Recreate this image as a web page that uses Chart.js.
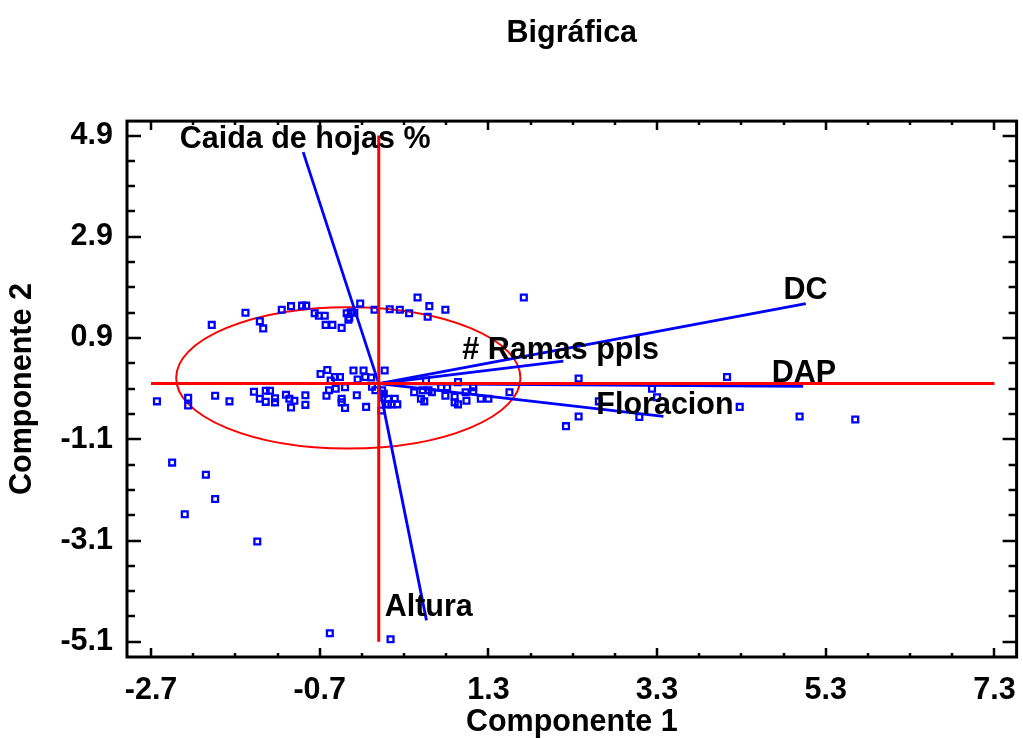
<!DOCTYPE html>
<html>
<head>
<meta charset="utf-8">
<title>Bigráfica</title>
<script src="https://cdn.jsdelivr.net/npm/chart.js@4.4.1/dist/chart.umd.min.js"></script>
<style>
  html, body { margin: 0; padding: 0; background: #fff; }
  #wrap { width: 1023px; height: 738px; }
</style>
</head>
<body>
<div id="wrap"><canvas id="chart" width="1023" height="738"></canvas></div>
<script>
// observation scores (Componente 1, Componente 2)
const scoreX = [
  -1.98, -1.58, -1.41, -1.37, -1.15, -1.04, -0.91, -0.86, -0.76, -0.71, -0.64, -0.63, -0.55, -0.44,
  -0.38, -0.33, -0.29, -0.35, -0.36, -0.22, -0.05, 0.13, 0.25, 0.36, 0.46, 0.60, 0.58, 0.79, 1.72,
  -2.63, -2.26, -2.26, -1.94, -1.77,
  -1.48, -1.41, -1.34, -1.29, -1.34, -1.23, -1.23, -1.10, -1.06, -1.00, -1.04, -0.87, -0.87, -0.62,
  -0.44, -0.44, -0.40, -0.51, -0.40, -0.26, -0.15,
  -0.69, -0.61, -0.57, -0.52, -0.46, -0.59, -0.30, -0.18, -0.25, -0.16, -0.09, 0.07, -0.08, -0.04,
  0.04, 0.06, 0.04, 0.11, 0.19, 0.11, 0.15, 0.22, 0.03,
  0.42, 0.52, 0.59, 0.50, 0.54, 0.56, 0.63, 0.74, 0.81, 0.79, 0.90, 0.90, 0.94, 0.94, 1.03, 1.04,
  1.12, 1.12, 1.21, 1.30, 1.55,
  2.22, 2.37, 2.37, 2.61, 3.09, 3.24, 3.30, 4.13, 4.28, 4.99, 5.65,
  -2.45, -2.05, -1.94, -2.30, -1.44, -0.58, 0.14
];
const scoreY = [
  1.16, 1.40, 1.23, 1.09, 1.46, 1.53, 1.54, 1.54, 1.39, 1.34, 1.34, 1.16, 1.16, 1.10,
  1.39, 1.41, 1.40, 1.30, 1.26, 1.58, 1.46, 1.47, 1.46, 1.39, 1.70, 1.53, 1.32, 1.46, 1.70,
  -0.35, -0.28, -0.43, -0.24, -0.35,
  -0.16, -0.30, -0.14, -0.14, -0.36, -0.29, -0.37, -0.22, -0.30, -0.34, -0.47, -0.23, -0.42, -0.24,
  -0.30, -0.37, -0.48, -0.10, -0.07, -0.23, -0.46,
  0.19, 0.27, 0.06, 0.13, 0.13, -0.13, 0.26, 0.26, 0.08, 0.13, 0.12, 0.26, -0.06, -0.13,
  -0.13, -0.20, -0.28, -0.30, -0.30, -0.41, -0.41, -0.41, -0.53,
  -0.17, -0.13, -0.13, -0.30, -0.35, 0.06, -0.17, -0.07, -0.07, -0.24, -0.26, -0.37, -0.41, 0.03, -0.17, -0.34,
  -0.07, -0.15, -0.30, -0.30, -0.17,
  -0.84, 0.10, -0.65, -0.35, -0.66, -0.10, -0.27, 0.13, -0.46, -0.65, -0.71,
  -1.56, -1.80, -2.28, -2.58, -3.12, -4.93, -5.05
];

// variable vectors (loadings), drawn from the origin
const varNames = ["Caida de hojas %", "Altura", "DC", "# Ramas ppls", "DAP", "Floracion"];
const varX = [-0.896, 0.566, 5.064, 2.189, 5.032, 3.375];
const varY = [4.572, -4.677, 1.578, 0.444, -0.055, -0.648];
// where each name is written (left edge, middle)
const nameX = [-2.36, 0.07, 4.80, 0.99, 4.66, 2.58];
const nameY = [4.82, -4.42, 1.84, 0.65, 0.20, -0.43];

// ellipse around the scores
const ellipseCenter = [-0.361, 0.113];
const ellipseRadius = [2.041, 1.395];

const xTickLabels = [-2.7, -0.7, 1.3, 3.3, 5.3, 7.3];
const yTickLabels = [-5.1, -3.1, -1.1, 0.9, 2.9, 4.9];

const FONT = "'Liberation Sans', Arial, sans-serif";
const SIZE = 30.5;
const BLUE = "#0000ff";
const RED = "#ff0000";

function stepTicks(labels) {
    const out = [];
    const first = labels[0], last = labels[labels.length - 1];
    for (let v = first; v <= last + 1e-9; v += 0.5) {
        out.push({ value: Math.round(v * 10) / 10 });
    }
    return out;
}

function isMajor(labels, v) {
    return labels.some(t => Math.abs(t - v) < 1e-6);
}

const scorePoints = scoreX.map((x, i) => ({ x: x, y: scoreY[i] }));

const vectorSets = varNames.map((name, i) => ({
    label: name,
    type: "line",
    data: [{ x: 0, y: 0 }, { x: varX[i], y: varY[i] }],
    borderColor: BLUE,
    borderWidth: 2.8,
    pointRadius: 0,
    showLine: true,
    fill: false
}));

const biplotExtras = {
    id: "biplotExtras",
    beforeDatasetsDraw(chart) {
        const { ctx, scales: { x, y } } = chart;
        const cx = x.getPixelForValue(ellipseCenter[0]);
        const cy = y.getPixelForValue(ellipseCenter[1]);
        const rx = Math.abs(x.getPixelForValue(ellipseCenter[0] + ellipseRadius[0]) - cx);
        const ry = Math.abs(y.getPixelForValue(ellipseCenter[1] + ellipseRadius[1]) - cy);
        ctx.save();
        ctx.strokeStyle = RED;
        ctx.lineWidth = 2;
        ctx.beginPath();
        ctx.ellipse(cx, cy, rx, ry, 0, 0, Math.PI * 2);
        ctx.stroke();
        ctx.restore();
    },
    afterDatasetsDraw(chart) {
        const { ctx, scales: { x, y } } = chart;
        ctx.save();
        ctx.fillStyle = "#000";
        ctx.font = "bold " + SIZE + "px " + FONT;
        ctx.textAlign = "left";
        ctx.textBaseline = "middle";
        varNames.forEach((name, i) => {
            ctx.fillText(name, x.getPixelForValue(nameX[i]), y.getPixelForValue(nameY[i]));
        });
        ctx.restore();
    },
    afterDraw(chart) {
        const { ctx, chartArea: a, scales: { x, y } } = chart;
        ctx.save();
        ctx.strokeStyle = "#000";
        ctx.lineWidth = 3;
        ctx.strokeRect(a.left, a.top, a.right - a.left, a.bottom - a.top);
        ctx.lineWidth = 2.5;
        ctx.beginPath();
        x.ticks.forEach(t => {
            const px = Math.round(x.getPixelForValue(t.value));
            const len = isMajor(xTickLabels, t.value) ? 9 : 4;
            ctx.moveTo(px, a.bottom); ctx.lineTo(px, a.bottom - len);
            ctx.moveTo(px, a.top); ctx.lineTo(px, a.top + len);
        });
        y.ticks.forEach(t => {
            const py = Math.round(y.getPixelForValue(t.value));
            const len = isMajor(yTickLabels, t.value) ? 14 : 8;
            ctx.moveTo(a.left, py); ctx.lineTo(a.left + len, py);
            ctx.moveTo(a.right, py); ctx.lineTo(a.right - len, py);
        });
        ctx.stroke();
        ctx.restore();
    }
};

const axisFont = { family: FONT, size: SIZE, weight: "bold", lineHeight: 1 };

new Chart(document.getElementById("chart"), {
    type: "scatter",
    data: {
        datasets: [
            {
                label: "eje horizontal",
                type: "line",
                data: [{ x: xTickLabels[0], y: 0 }, { x: xTickLabels[xTickLabels.length - 1], y: 0 }],
                borderColor: RED, borderWidth: 3, pointRadius: 0, fill: false
            },
            {
                label: "eje vertical",
                type: "line",
                data: [{ x: 0, y: yTickLabels[0] }, { x: 0, y: yTickLabels[yTickLabels.length - 1] }],
                borderColor: RED, borderWidth: 3, pointRadius: 0, fill: false
            },
            ...vectorSets,
            {
                label: "puntuaciones",
                data: scorePoints,
                pointStyle: "rect",
                pointRadius: 4.1,
                pointBorderWidth: 2.3,
                pointBorderColor: BLUE,
                pointBackgroundColor: "rgba(255,255,255,0)",
                showLine: false
            }
        ]
    },
    options: {
        responsive: false,
        devicePixelRatio: 1,
        animation: false,
        layout: { padding: { left: 0, right: 1, top: 0, bottom: 0 } },
        plugins: {
            legend: { display: false },
            tooltip: { enabled: false },
            title: {
                display: true,
                text: "Bigráfica",
                fullSize: false,
                color: "#000",
                font: { family: FONT, size: SIZE, weight: "bold", lineHeight: 1.2 },
                padding: { top: 15.5, bottom: 69 }
            }
        },
        scales: {
            x: {
                type: "linear",
                min: -2.985,
                max: 7.563,
                afterBuildTicks: s => { s.ticks = stepTicks(xTickLabels); },
                afterFit: s => { s.height = 81; s.paddingLeft = 0; s.paddingRight = 0; },
                grid: { display: false, drawTicks: false },
                border: { display: false },
                ticks: {
                    autoSkip: false,
                    maxRotation: 0,
                    padding: 18,
                    color: "#000",
                    font: axisFont,
                    callback: v => isMajor(xTickLabels, v) ? v.toFixed(1) : ""
                },
                title: {
                    display: true,
                    text: "Componente 1",
                    color: "#000",
                    font: axisFont,
                    padding: { top: 4, bottom: 0 }
                }
            },
            y: {
                type: "linear",
                min: -5.40,
                max: 5.185,
                afterBuildTicks: s => { s.ticks = stepTicks(yTickLabels); },
                afterFit: s => { s.width = 127; s.paddingTop = 0; s.paddingBottom = 0; },
                grid: { display: false, drawTicks: false },
                border: { display: false },
                ticks: {
                    autoSkip: false,
                    padding: 14,
                    color: "#000",
                    font: axisFont,
                    callback: v => isMajor(yTickLabels, v) ? v.toFixed(1) : ""
                },
                title: {
                    display: true,
                    text: "Componente 2",
                    color: "#000",
                    font: axisFont,
                    padding: { top: 7, bottom: 0 }
                }
            }
        }
    },
    plugins: [biplotExtras]
});
</script>
</body>
</html>
